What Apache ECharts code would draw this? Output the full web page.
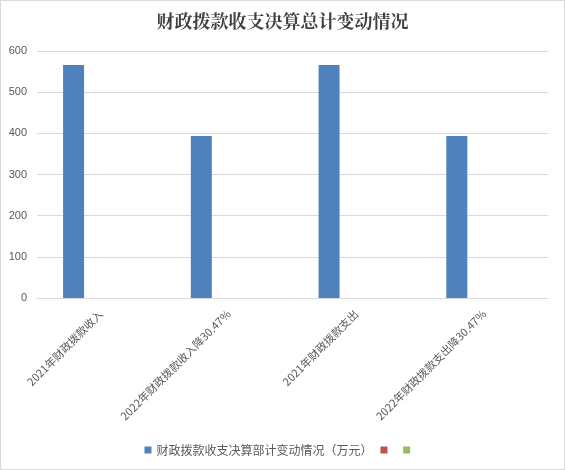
<!DOCTYPE html>
<html><head><meta charset="utf-8">
<script src="https://cdn.jsdelivr.net/npm/echarts@6/dist/echarts.min.js"></script>
<style>html,body{margin:0;padding:0;background:#fff}#c{width:563px;height:468px;border:1px solid #d9d9d9}</style>
</head><body><div id="c"></div>
<script>
const categories = ['2021年财政拨款收入','2022年财政拨款收入降30.47%','2021年财政拨款支出','2022年财政拨款支出降30.47%'];
const seriesNames = ['财政拨款收支决算部计变动情况（万元）',' ','  '];
const values1 = [566.2, 393.7, 566.2, 393.7];
const values2 = [null, null, null, null];
const values3 = [null, null, null, null];
const yTicks = [0, 100, 200, 300, 400, 500, 600];
const colors = ['#4f81bd','#c0504d','#9bbb59'];
const chart = echarts.init(document.getElementById('c'));
chart.setOption({
  animation:false,
  title:{text:'财政拨款收支决算总计变动情况',left:'center',top:6,textStyle:{fontFamily:'"Noto Serif CJK SC","Noto Sans CJK SC",serif',fontSize:18,fontWeight:'bold',color:'#404040'}},
  legend:{bottom:8,left:'center',itemWidth:7,itemHeight:7,itemGap:8,icon:'rect',textStyle:{fontSize:12,color:'#595959',fontFamily:'"Noto Sans CJK SC",sans-serif'},data:seriesNames},
  grid:{left:36,right:16,top:50,bottom:171},
  xAxis:{type:'category',data:categories,axisLine:{lineStyle:{color:'#d9d9d9'}},axisTick:{show:false},
    axisLabel:{rotate:45,interval:0,fontSize:11,color:'#595959',margin:14,fontFamily:'"Noto Sans CJK SC",sans-serif'}},
  yAxis:{type:'value',min:yTicks[0],max:yTicks[yTicks.length-1],interval:100,axisLine:{show:false},axisTick:{show:false},
    axisLabel:{fontSize:11,color:'#595959',margin:10},splitLine:{lineStyle:{color:'#d9d9d9'}}},
  series:[
    {name:seriesNames[0],type:'bar',data:values1,barWidth:21,barGap:'30%',itemStyle:{color:colors[0]}},
    {name:seriesNames[1],type:'bar',data:values2,barWidth:21,barGap:'30%',itemStyle:{color:colors[1]}},
    {name:seriesNames[2],type:'bar',data:values3,barWidth:21,barGap:'30%',itemStyle:{color:colors[2]}}
  ]
});
</script></body></html>
